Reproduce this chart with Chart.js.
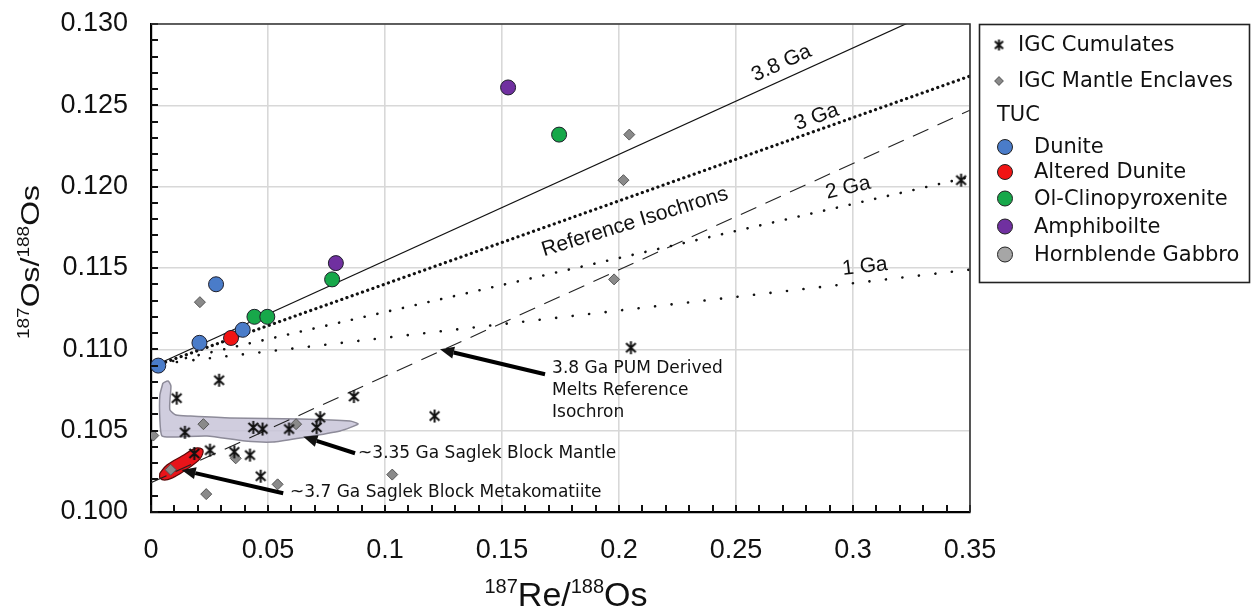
<!DOCTYPE html>
<html>
<head>
<meta charset="utf-8">
<script src="https://cdn.jsdelivr.net/npm/chart.js@4.4.0/dist/chart.umd.min.js"></script>
<style>
  html, body { margin: 0; padding: 0; background: #fff; }
</style>
</head>
<body>
<canvas id="chart" width="1252" height="610"></canvas>
<script>
// ---- data (187Re/188Os vs 187Os/188Os) ----
const cumulatesRe = [0.0110, 0.0145, 0.0185, 0.0252, 0.0291, 0.0356, 0.0423, 0.0437, 0.0469, 0.0477, 0.0590, 0.0708, 0.0723, 0.0867, 0.1212, 0.2051, 0.3462];
const cumulatesOs = [0.1070, 0.1049, 0.1036, 0.1038, 0.1081, 0.1037, 0.1035, 0.1052, 0.1022, 0.1051, 0.1051, 0.1052, 0.1058, 0.1071, 0.1059, 0.1101, 0.1204];

const enclavesRe = [0.0010, 0.0084, 0.0209, 0.0224, 0.0236, 0.0362, 0.0541, 0.0620, 0.1031, 0.1979, 0.2019, 0.2044];
const enclavesOs = [0.1047, 0.1026, 0.1129, 0.1054, 0.1011, 0.1033, 0.1017, 0.1054, 0.1023, 0.1143, 0.1204, 0.1232];

const duniteRe = [0.0031, 0.0207, 0.0278, 0.0392];
const duniteOs = [0.1090, 0.1104, 0.1140, 0.1112];
const alteredRe = [0.0342];
const alteredOs = [0.1107];
const clinoRe = [0.0442, 0.0497, 0.0774, 0.1744];
const clinoOs = [0.1120, 0.1120, 0.1143, 0.1232];
const amphRe = [0.0790, 0.1526];
const amphOs = [0.1153, 0.1261];
const gabbroRe = [];
const gabbroOs = [];

// reference isochron end points
const iso38Re = [0.003, 0.35];
const iso38Os = [0.1091, 0.1318];
const iso3Re = [0.004, 0.35];
const iso3Os = [0.1091, 0.1268];
const iso2Re = [0.004, 0.35];
const iso2Os = [0.1091, 0.1206];
const iso1Re = [0.004, 0.35];
const iso1Os = [0.1091, 0.1149];
const pumRe = [0, 0.35];
const pumOs = [0.1018, 0.1247];

// outlined fields
const mantleFieldRe = [0.0051, 0.0073, 0.0085, 0.0081, 0.0081, 0.0107, 0.0167, 0.0338, 0.0637, 0.0850, 0.0885, 0.0808, 0.0637, 0.0521, 0.0402, 0.0239, 0.0103, 0.0047, 0.0038, 0.0038, 0.0051];
const mantleFieldOs = [0.10793, 0.10805, 0.10775, 0.10689, 0.10627, 0.10596, 0.10590, 0.10578, 0.10572, 0.10559, 0.10541, 0.10498, 0.10455, 0.10430, 0.10436, 0.10467, 0.10461, 0.10467, 0.10566, 0.10719, 0.10793];
const metakomRe = [0.0038, 0.0068, 0.0132, 0.0192, 0.0222, 0.0209, 0.0154, 0.0107, 0.0064, 0.0038, 0.0038];
const metakomOs = [0.10240, 0.10289, 0.10344, 0.10393, 0.10381, 0.10326, 0.10264, 0.10221, 0.10197, 0.10209, 0.10240];

const xTickValues = [0, 0.05, 0.1, 0.15, 0.2, 0.25, 0.3, 0.35];
const xTickLabels = ['0', '0.05', '0.1', '0.15', '0.2', '0.25', '0.3', '0.35'];
const yTickValues = [0.100, 0.105, 0.110, 0.115, 0.120, 0.125, 0.130];
const yTickLabels = ['0.100', '0.105', '0.110', '0.115', '0.120', '0.125', '0.130'];

const pts = (xs, ys) => xs.map((x, i) => ({ x, y: ys[i] }));

function labelFor(values, labels, v) {
    const i = values.findIndex(t => Math.abs(t - v) < 1e-7);
    return i < 0 ? '' : labels[i];
}

function makeAsterisk(size, lw) {
    const c = document.createElement('canvas');
    c.width = size;
    c.height = size;
    const g = c.getContext('2d');
    const m = size / 2;
    const h = size / 2 - 1;
    g.strokeStyle = '#111';
    g.lineWidth = lw;
    g.beginPath();
    g.moveTo(m, 1); g.lineTo(m, size - 1);
    g.moveTo(m - h * 0.75, m - h * 0.7); g.lineTo(m + h * 0.75, m + h * 0.7);
    g.moveTo(m - h * 0.75, m + h * 0.7); g.lineTo(m + h * 0.75, m - h * 0.7);
    g.stroke();
    return c;
}
const asterisk = makeAsterisk(15, 2);
const asteriskSmall = makeAsterisk(13, 2);

const COLORS = {
    dunite: '#4a7cc9',
    altered: '#f01414',
    clino: '#17a84a',
    amph: '#7030a0',
    gabbro: '#a6a6a6',
    enclave: '#8a8a8a'
};

const SANS = '"Liberation Sans", Arial, sans-serif';
const DEJAVU = '"DejaVu Sans", sans-serif';

// text labels along the isochrons (data coordinates)
const lineLabels = [
    { text: '3.8 Ga', x: 0.2695, y: 0.12758, angle: -24.4 },
    { text: '3 Ga', x: 0.2845, y: 0.12428, angle: -19.6 },
    { text: '2 Ga', x: 0.2979, y: 0.11992, angle: -13.2 },
    { text: '1 Ga', x: 0.3051, y: 0.11508, angle: -6.7 },
    { text: 'Reference Isochrons', x: 0.2068, y: 0.11783, angle: -17.2 }
];

const arrows = [
    { from: [0.1684, 0.10847], to: [0.1235, 0.11000] },
    { from: [0.0872, 0.10361], to: [0.0651, 0.10463] },
    { from: [0.0565, 0.10115], to: [0.0131, 0.10258] }
];

const notes = [
    { lines: ['3.8 Ga PUM Derived', 'Melts Reference', 'Isochron'], x: 0.1714, y: 0.10883 },
    { lines: ['~3.35 Ga Saglek Block Mantle'], x: 0.0885, y: 0.10361 },
    { lines: ['~3.7 Ga Saglek Block Metakomatiite'], x: 0.0594, y: 0.10119 }
];

const decorations = {
    id: 'decorations',
    afterDatasetsDraw(chart) {
        const { ctx, scales: { x, y } } = chart;
        ctx.save();
        ctx.fillStyle = '#111';

        // isochron labels
        ctx.font = '21px ' + SANS;
        ctx.textAlign = 'center';
        ctx.textBaseline = 'middle';
        lineLabels.forEach(l => {
            ctx.save();
            ctx.translate(x.getPixelForValue(l.x), y.getPixelForValue(l.y));
            ctx.rotate(l.angle * Math.PI / 180);
            ctx.fillText(l.text, 0, 0);
            ctx.restore();
        });

        // arrows
        ctx.strokeStyle = '#000';
        ctx.lineWidth = 4;
        arrows.forEach(a => {
            const x0 = x.getPixelForValue(a.from[0]), y0 = y.getPixelForValue(a.from[1]);
            const x1 = x.getPixelForValue(a.to[0]), y1 = y.getPixelForValue(a.to[1]);
            const ang = Math.atan2(y1 - y0, x1 - x0);
            const hl = 14, hw = 6;
            const bx = x1 - Math.cos(ang) * hl, by = y1 - Math.sin(ang) * hl;
            ctx.beginPath();
            ctx.moveTo(x0, y0);
            ctx.lineTo(bx, by);
            ctx.stroke();
            ctx.beginPath();
            ctx.moveTo(x1, y1);
            ctx.lineTo(bx + Math.sin(ang) * hw, by - Math.cos(ang) * hw);
            ctx.lineTo(bx - Math.sin(ang) * hw, by + Math.cos(ang) * hw);
            ctx.closePath();
            ctx.fill();
        });

        // annotation texts
        ctx.font = '17px ' + DEJAVU;
        ctx.textAlign = 'left';
        notes.forEach(n => {
            const px = x.getPixelForValue(n.x), py = y.getPixelForValue(n.y);
            n.lines.forEach((t, i) => ctx.fillText(t, px, py + i * 22));
        });
        ctx.restore();
    }
};

const frame = {
    id: 'frame',
    afterDraw(chart) {
        const { ctx, chartArea: a, scales: { x, y } } = chart;
        ctx.save();
        ctx.strokeStyle = '#111';
        ctx.lineWidth = 2;
        ctx.beginPath();
        y.ticks.forEach(t => {
            const py = Math.round(y.getPixelForValue(t.value));
            ctx.moveTo(a.left, py);
            ctx.lineTo(a.left + 7, py);
        });
        x.ticks.forEach(t => {
            const px = Math.round(x.getPixelForValue(t.value));
            ctx.moveTo(px, a.bottom);
            ctx.lineTo(px, a.bottom - 7);
        });
        ctx.stroke();
        ctx.strokeStyle = '#333';
        ctx.lineWidth = 1.6;
        ctx.beginPath();
        ctx.moveTo(a.left, a.top);
        ctx.lineTo(a.right, a.top);
        ctx.lineTo(a.right, a.bottom);
        ctx.stroke();

        // axis titles with superscripts
        drawRich(ctx, [['187', true], ['Re/', false], ['188', true], ['Os', false]], 566, 606, 34, 20, 13, 1, 0);
        drawRich(ctx, [['187', true], ['Os/', false], ['188', true], ['Os', false]], 39, 262, 32, 19, 12, 0.83, -Math.PI / 2);
        ctx.restore();
    }
};

function drawRich(ctx, parts, cx, cy, mainSize, supSize, rise, squash, rot) {
    ctx.save();
    ctx.translate(cx, cy);
    ctx.rotate(rot);
    ctx.scale(1, squash);
    ctx.fillStyle = '#111';
    ctx.textBaseline = 'alphabetic';
    ctx.textAlign = 'left';
    const fonts = parts.map(p => (p[1] ? supSize : mainSize) + 'px ' + SANS);
    let total = 0;
    const widths = parts.map((p, i) => { ctx.font = fonts[i]; const w = ctx.measureText(p[0]).width; total += w; return w; });
    let px = -total / 2;
    parts.forEach((p, i) => {
        ctx.font = fonts[i];
        ctx.fillText(p[0], px, p[1] ? -rise : 0);
        px += widths[i];
    });
    ctx.restore();
}

const legendBox = {
    id: 'legendBox',
    afterDraw(chart) {
        const ctx = chart.ctx;
        ctx.save();
        ctx.fillStyle = '#fff';
        ctx.fillRect(979, 24, 271, 259);
        ctx.strokeStyle = '#222';
        ctx.lineWidth = 1.6;
        ctx.strokeRect(979.5, 24.5, 270, 258);
        ctx.font = '21px ' + DEJAVU;
        ctx.textBaseline = 'middle';
        ctx.fillStyle = '#111';

        ctx.drawImage(asteriskSmall, 999 - 6.5, 45 - 6.5);
        ctx.fillText('IGC Cumulates', 1018, 46);

        ctx.save();
        ctx.translate(999, 81);
        ctx.rotate(Math.PI / 4);
        ctx.fillStyle = COLORS.enclave;
        ctx.strokeStyle = '#666';
        ctx.lineWidth = 1;
        ctx.fillRect(-3, -3, 6, 6);
        ctx.strokeRect(-3, -3, 6, 6);
        ctx.restore();
        ctx.fillText('IGC Mantle Enclaves', 1018, 82);

        ctx.fillText('TUC', 997, 116);

        const items = [
            ['Dunite', COLORS.dunite, 147],
            ['Altered Dunite', COLORS.altered, 172],
            ['Ol-Clinopyroxenite', COLORS.clino, 198.5],
            ['Amphiboilte', COLORS.amph, 226.5],
            ['Hornblende Gabbro', COLORS.gabbro, 254.5]
        ];
        items.forEach(([label, color, yy]) => {
            ctx.beginPath();
            ctx.arc(1005, yy, 7.5, 0, Math.PI * 2);
            ctx.fillStyle = color;
            ctx.fill();
            ctx.strokeStyle = '#222';
            ctx.lineWidth = 1;
            ctx.stroke();
            ctx.fillStyle = '#111';
            ctx.fillText(label, 1034, yy + 1);
        });
        ctx.restore();
    }
};

const circle = (label, re, os, color) => ({
    label,
    data: pts(re, os),
    pointStyle: 'circle',
    pointRadius: 7.5,
    backgroundColor: color,
    borderColor: '#1e1e2a',
    borderWidth: 1,
    order: 0
});

const isoLine = (label, re, os, width, dash, color) => ({
    label,
    data: pts(re, os),
    showLine: true,
    borderColor: color || '#111',
    borderWidth: width,
    borderDash: dash,
    borderCapStyle: dash.length && dash[0] < 4 ? 'round' : 'butt',
    pointRadius: 0,
    fill: false,
    order: 5
});

new Chart(document.getElementById('chart'), {
    type: 'scatter',
    data: {
        datasets: [
            {
                label: 'Saglek Block Mantle',
                data: pts(mantleFieldRe, mantleFieldOs),
                showLine: true,
                fill: 'shape',
                tension: 0.2,
                backgroundColor: 'rgba(200,196,216,0.85)',
                borderColor: '#8d8b99',
                borderWidth: 1.5,
                pointRadius: 0,
                order: 10
            },
            {
                label: 'Saglek Block Metakomatiite',
                data: pts(metakomRe, metakomOs),
                showLine: true,
                fill: 'shape',
                tension: 0.35,
                backgroundColor: '#e8141a',
                borderColor: '#5a0a0a',
                borderWidth: 1.2,
                pointRadius: 0,
                order: 9
            },
            isoLine('3.8 Ga', iso38Re, iso38Os, 1.2, []),
            isoLine('3 Ga', iso3Re, iso3Os, 3.2, [0.1, 5.4]),
            isoLine('2 Ga', iso2Re, iso2Os, 2.6, [0.1, 13]),
            isoLine('1 Ga', iso1Re, iso1Os, 2.6, [0.1, 16.5]),
            isoLine('3.8 Ga PUM', pumRe, pumOs, 1.1, [17, 10], '#222'),
            {
                label: 'IGC Mantle Enclaves',
                data: pts(enclavesRe, enclavesOs),
                pointStyle: 'rectRot',
                pointRadius: 5.5,
                backgroundColor: COLORS.enclave,
                borderColor: '#555',
                borderWidth: 1,
                order: 2
            },
            {
                label: 'IGC Cumulates',
                data: pts(cumulatesRe, cumulatesOs),
                pointStyle: asterisk,
                pointRadius: 7,
                order: 1
            },
            circle('Dunite', duniteRe, duniteOs, COLORS.dunite),
            circle('Altered Dunite', alteredRe, alteredOs, COLORS.altered),
            circle('Ol-Clinopyroxenite', clinoRe, clinoOs, COLORS.clino),
            circle('Amphiboilte', amphRe, amphOs, COLORS.amph),
            circle('Hornblende Gabbro', gabbroRe, gabbroOs, COLORS.gabbro)
        ]
    },
    options: {
        responsive: false,
        animation: false,
        events: [],
        layout: { padding: { left: 0, top: 24, right: 282, bottom: 0 } },
        plugins: {
            legend: { display: false },
            tooltip: { enabled: false }
        },
        scales: {
            x: {
                type: 'linear',
                min: 0,
                max: 0.35,
                afterFit: s => { s.height = 98; s.paddingLeft = 0; s.paddingRight = 0; },
                border: { color: '#000', width: 2.2 },
                grid: {
                    drawTicks: false,
                    lineWidth: 1.6,
                    color: c => labelFor(xTickValues, xTickLabels, c.tick.value) ? '#d8d8d8' : 'rgba(0,0,0,0)'
                },
                ticks: {
                    stepSize: 0.01,
                    autoSkip: false,
                    maxRotation: 0,
                    padding: 22,
                    color: '#111',
                    font: { family: SANS, size: 27 },
                    callback: v => labelFor(xTickValues, xTickLabels, v)
                }
            },
            y: {
                type: 'linear',
                min: 0.1,
                max: 0.13,
                afterFit: s => { s.width = 151; s.paddingTop = 0; s.paddingBottom = 0; },
                border: { color: '#000', width: 2.2 },
                grid: {
                    drawTicks: false,
                    lineWidth: 1.6,
                    color: c => labelFor(yTickValues, yTickLabels, c.tick.value) ? '#d8d8d8' : 'rgba(0,0,0,0)'
                },
                ticks: {
                    stepSize: 0.001,
                    autoSkip: false,
                    padding: 23,
                    color: '#111',
                    font: { family: SANS, size: 27 },
                    callback: v => labelFor(yTickValues, yTickLabels, v)
                }
            }
        }
    },
    plugins: [decorations, frame, legendBox]
});
</script>
</body>
</html>
